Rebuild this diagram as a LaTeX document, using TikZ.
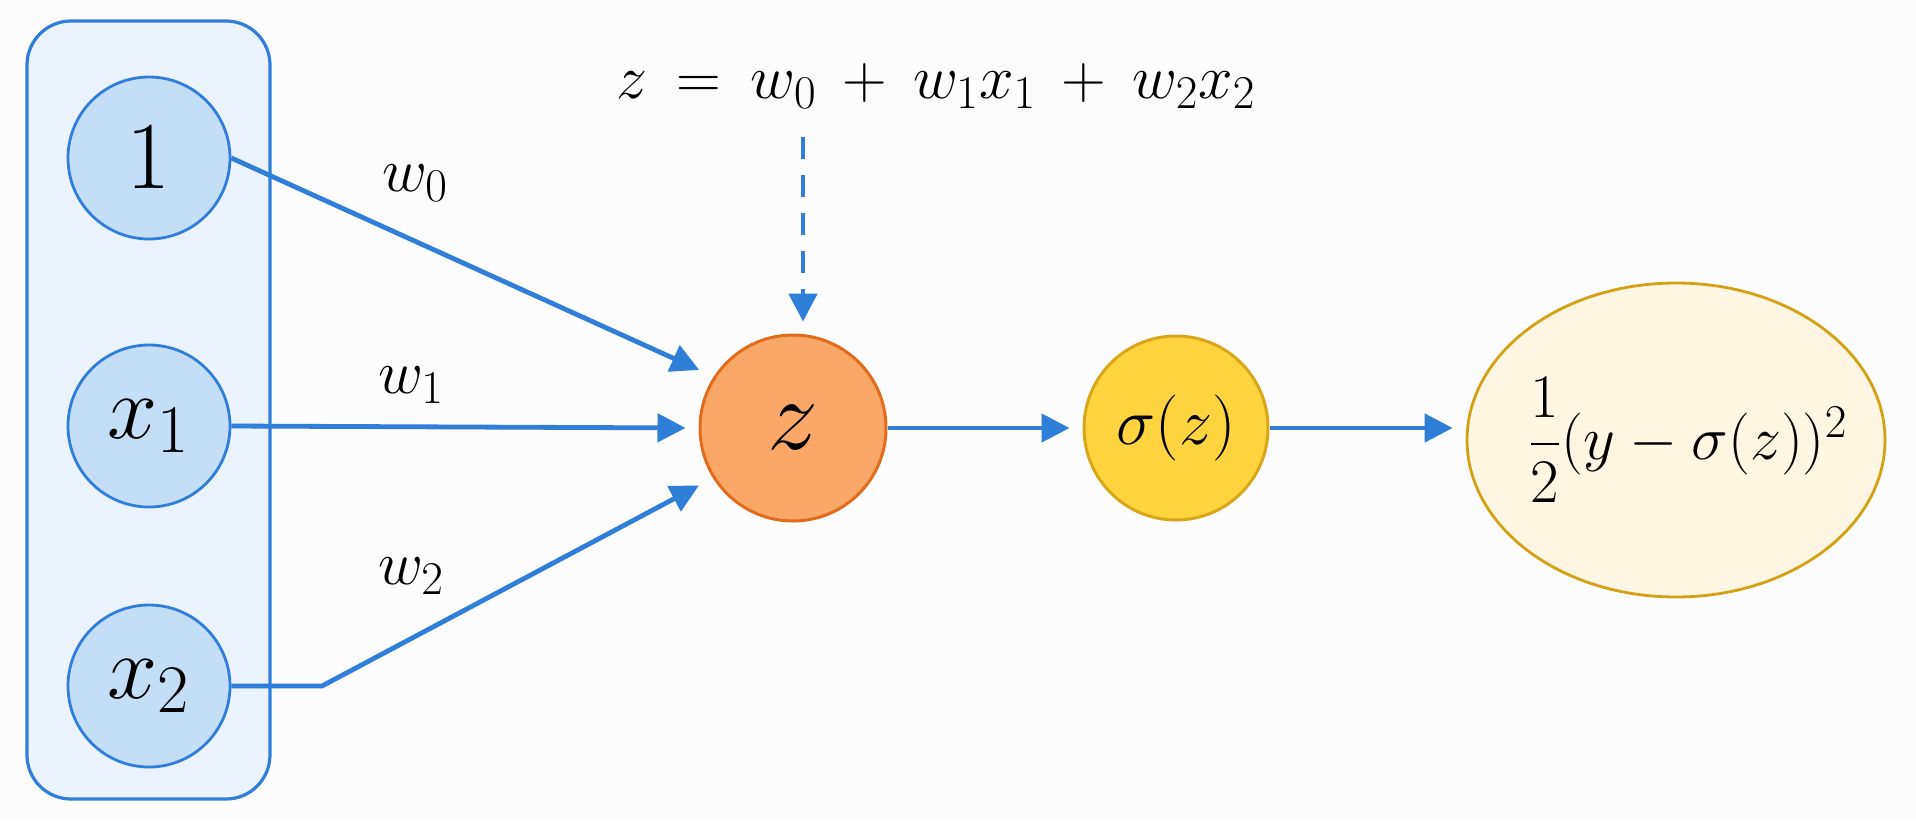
\RequirePackage{fix-cm}
\documentclass[tikz,border=0pt]{standalone}
\usepackage{amsmath}
\usetikzlibrary{arrows.meta,calc,shapes.geometric}
\DeclareMathSizes{31}{31}{23.5}{17}
\DeclareMathSizes{45}{45}{34}{25}
\DeclareMathSizes{48}{48}{36}{26}
\DeclareMathSizes{51}{51}{38}{28}
\DeclareMathSizes{33}{33}{25}{18}
\definecolor{lineblue}{HTML}{2F7ED8}
\definecolor{boxfill}{HTML}{EBF4FE}
\definecolor{infill}{HTML}{C5DEF8}
\definecolor{zfill}{HTML}{F9A86A}
\definecolor{zdraw}{HTML}{E36C1C}
\definecolor{sfill}{HTML}{FDD43F}
\definecolor{sdraw}{HTML}{D9A617}
\definecolor{efill}{HTML}{FEF5E3}
\definecolor{edraw}{HTML}{D4A114}
\definecolor{bgcol}{HTML}{FCFCFC}
\begin{document}
\begin{tikzpicture}[x=0.5pt,y=-0.5pt,
  conn/.style={draw=lineblue,line width=2.4pt,-{Triangle[length=14pt,width=14pt]}},
  dashconn/.style={conn,dash pattern=on 11pt off 8pt},
  inbox/.style={draw=lineblue,line width=1.6pt,fill=boxfill,rounded corners=22pt,
    minimum width=121.5pt,minimum height=389pt,inner sep=0pt},
  innode/.style={circle,draw=lineblue,line width=1.4pt,fill=infill,minimum size=81pt,
    inner sep=0pt,font=\fontsize{45}{54}\selectfont},
  znode/.style={circle,draw=zdraw,line width=1.5pt,fill=zfill,minimum size=93pt,
    inner sep=0pt,font=\fontsize{51}{60}\selectfont},
  snode/.style={circle,draw=sdraw,line width=1.5pt,fill=sfill,minimum size=92pt,
    inner sep=0pt,font=\fontsize{33}{40}\selectfont},
  enode/.style={ellipse,draw=edraw,line width=1.4pt,fill=efill,minimum width=209pt,
    minimum height=157pt,inner sep=0pt,font=\fontsize{31}{37}\selectfont},
  wlabel/.style={inner sep=0pt,font=\fontsize{31}{37}\selectfont},
  eqlabel/.style={inner sep=0pt,font=\fontsize{31}{37}\selectfont}
]
\fill[bgcol] (0,0) rectangle (1916,821);
\useasboundingbox (0,0) rectangle (1916,821);

\node[inbox] (box) at (148.5,410) {};
\node[innode] (n1) at (149,158) {\fontsize{48}{56}\selectfont$1$};
\node[innode] (x1) at (149,426) {$x_1$};
\node[innode] (x2) at (149,686) {$x_2$};

\node[znode] (z) at (793,428) {$z$};
\node[snode] (s) at (1176,428) {$\sigma(z)$};
\node[enode] (e) at (1676,440) {\makebox[0pt]{\hspace*{12pt}$\dfrac{1}{2}(y-\sigma(z))^2$}};

\node[eqlabel] (eq) at (936,86) {$\thickmuskip=8.5mu \medmuskip=7.5mu z = w_0 + w_1x_1 + w_2x_2$};

\node[wlabel] (w0) at (415,183) {$w_0$};
\node[wlabel] (w1) at (411,385) {$w_1$};
\node[wlabel] (w2) at (411,576) {$w_2$};

\coordinate (bend) at (322,686);
\coordinate (dtop) at (803,137);

\draw[conn,shorten >=8pt] (n1.east) -- (z.147);
\draw[conn,shorten >=6.5pt] (x1.east) -- (z.west);
\draw[conn,shorten >=8pt] (x2.east) -- (bend) -- (z.212);
\draw[dashconn,shorten >=6pt] (dtop) -- (dtop |- z.north);
\draw[conn,shorten >=6.5pt] (z.east) -- (s.west);
\draw[conn,shorten >=6.5pt] (s.east) -- (s.east -| e.west);
\end{tikzpicture}
\end{document}
